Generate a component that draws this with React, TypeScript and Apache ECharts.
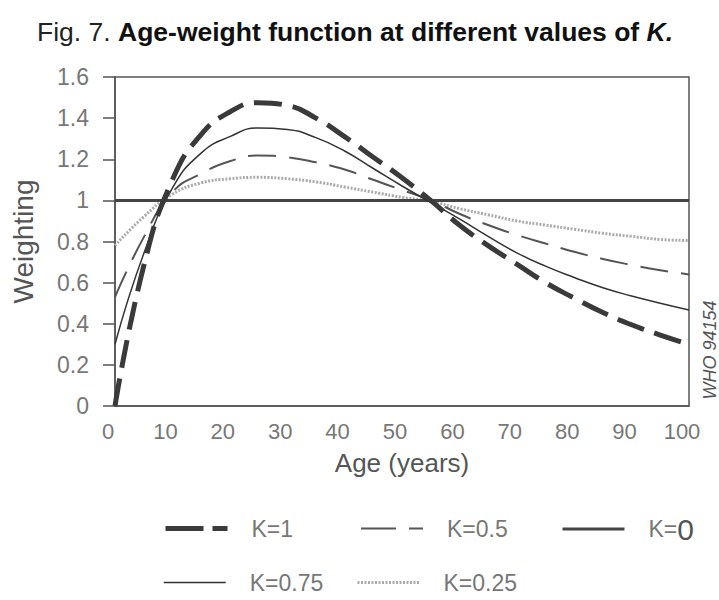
import React, { useEffect, useRef } from "react";
import * as echarts from "echarts";

// Age in years (x) and weighting values (y)
const ages = [0, 5, 10, 15, 20, 25, 30, 35, 40, 45, 50, 55, 60, 65, 70, 75, 80, 85, 90, 95, 100];
const k1 = [0.0, 0.68, 1.1, 1.32, 1.43, 1.475, 1.462, 1.4, 1.31, 1.21, 1.11, 1.0, 0.88, 0.78, 0.69, 0.6, 0.525, 0.455, 0.395, 0.345, 0.3];
const k075 = [0.3, 0.74, 1.06, 1.23, 1.31, 1.352, 1.345, 1.305, 1.24, 1.155, 1.07, 0.99, 0.91, 0.825, 0.745, 0.68, 0.625, 0.575, 0.535, 0.5, 0.467];
const k05 = [0.53, 0.82, 1.04, 1.13, 1.19, 1.218, 1.21, 1.185, 1.15, 1.1, 1.05, 1.0, 0.935, 0.88, 0.832, 0.79, 0.75, 0.715, 0.686, 0.66, 0.64];
const k025 = [0.78, 0.92, 1.03, 1.085, 1.105, 1.112, 1.105, 1.09, 1.065, 1.04, 1.015, 0.995, 0.96, 0.93, 0.9, 0.88, 0.86, 0.84, 0.825, 0.81, 0.805];
const k0Ages = [0, 100];
const k0 = [1, 1];

const seriesNames = ["K=1", "K=0.5", "K=0", "K=0.75", "K=0.25"];
const xTickValues = [0, 10, 20, 30, 40, 50, 60, 70, 80, 90, 100];

const pairs = (xs: number[], ys: number[]) => xs.map((x, i) => [x, ys[i]]);

const FONT = "'Liberation Sans', Arial, Helvetica, sans-serif";

const styles: Record<string, { color: string; width: number; type: any; legendType: any }> = {
  "K=1": { color: "#3a3a3a", width: 5, type: [28, 11], legendType: [38, 9] },
  "K=0.5": { color: "#555", width: 2, type: [28, 13], legendType: [35, 13] },
  "K=0": { color: "#444", width: 3, type: "solid", legendType: "solid" },
  "K=0.75": { color: "#333", width: 1.5, type: "solid", legendType: "solid" },
  "K=0.25": { color: "#ababab", width: 3, type: [2, 1.5], legendType: [2, 1.5] },
};

export default function App() {
  const ref = useRef<HTMLDivElement>(null);

  useEffect(() => {
    if (!ref.current) return;
    const chart = echarts.init(ref.current, undefined, { renderer: "svg" });

    const legendText = { fontFamily: FONT, fontSize: 23, color: "#777", padding: [0, 0, 0, 19] };
    const mkLegend = (name: string, left: number, top: number, rich?: any) => {
      const s = styles[name];
      return {
        data: [name],
        left,
        top,
        orient: "horizontal",
        itemWidth: 62,
        itemHeight: 14,
        selectedMode: false,
        itemStyle: { opacity: 0 },
        lineStyle: { color: s.color, width: s.width, type: s.legendType, opacity: 1 },
        textStyle: rich ? { ...legendText, rich } : legendText,
        formatter: rich ? () => "{a|K=}{b|0}" : undefined,
      };
    };

    const mkSeries = (name: string, xs: number[], ys: number[], z: number, smooth = true) => {
      const s = styles[name];
      return {
        name,
        type: "line",
        data: pairs(xs, ys),
        smooth,
        symbol: "none",
        itemStyle: { color: s.color },
        lineStyle: { color: s.color, width: s.width, type: s.type },
        z,
      };
    };

    chart.setOption({
      animation: false,
      backgroundColor: "#ffffff",
      title: {
        text: "{a|Fig. 7. }{b|Age-weight function at different values of }{c|K.}",
        left: 32,
        top: 13,
        textStyle: {
          rich: {
            a: { fontFamily: FONT, fontSize: 26.5, color: "#222", fontWeight: "normal" },
            b: { fontFamily: FONT, fontSize: 26.5, color: "#111", fontWeight: "bold" },
            c: { fontFamily: FONT, fontSize: 26.5, color: "#111", fontWeight: "bold", fontStyle: "italic" },
          },
        },
      },
      legend: [
        mkLegend(seriesNames[0], 158, 512),
        mkLegend(seriesNames[1], 355, 512),
        mkLegend(seriesNames[2], 556, 509, {
          a: { fontFamily: FONT, fontSize: 23, color: "#777" },
          b: { fontFamily: FONT, fontSize: 30, color: "#555" },
        }),
        mkLegend(seriesNames[3], 158, 566),
        mkLegend(seriesNames[4], 351, 566),
      ],
      grid: {
        left: 115,
        right: 30,
        top: 77,
        bottom: 194,
        show: true,
        borderColor: "#555",
        borderWidth: 1.5,
        backgroundColor: "transparent",
      },
      xAxis: {
        type: "value",
        min: 0,
        max: 100,
        interval: 10,
        name: "Age (years)",
        nameLocation: "middle",
        nameGap: 44,
        nameTextStyle: { fontFamily: FONT, fontSize: 26, color: "#555" },
        axisLine: { show: true, lineStyle: { color: "#555", width: 1.5 } },
        axisTick: { show: false },
        splitLine: { show: false },
        axisLabel: {
          fontFamily: FONT,
          fontSize: 22,
          color: "#777",
          margin: 14,
          padding: [0, 14, 0, 0],
          customValues: xTickValues,
        },
      },
      yAxis: {
        type: "value",
        min: 0,
        max: 1.6,
        interval: 0.2,
        name: "Weighting",
        nameLocation: "middle",
        nameGap: 78,
        nameRotate: 90,
        nameTextStyle: { fontFamily: FONT, fontSize: 28, color: "#555" },
        axisLine: { show: true, lineStyle: { color: "#555", width: 1.5 } },
        axisTick: { show: true, length: 12, lineStyle: { color: "#555", width: 1.5 } },
        splitLine: { show: false },
        axisLabel: { fontFamily: FONT, fontSize: 23, color: "#777", margin: 26 },
      },
      graphic: [
        {
          type: "text",
          x: 710,
          y: 350,
          rotation: Math.PI / 2,
          style: {
            text: "WHO 94154",
            fontFamily: FONT,
            fontSize: 18,
            fontStyle: "italic",
            fill: "#555",
            align: "center",
            verticalAlign: "middle",
          },
        },
      ],
      series: [
        mkSeries(seriesNames[4], ages, k025, 1),
        mkSeries(seriesNames[2], k0Ages, k0, 2, false),
        mkSeries(seriesNames[1], ages, k05, 3),
        mkSeries(seriesNames[3], ages, k075, 4),
        mkSeries(seriesNames[0], ages, k1, 5),
      ],
    });

    return () => chart.dispose();
  }, []);

  return (
    <div
      ref={ref}
      style={{ position: "absolute", left: 0, top: 0, width: 719, height: 600, background: "#fff" }}
    />
  );
}
